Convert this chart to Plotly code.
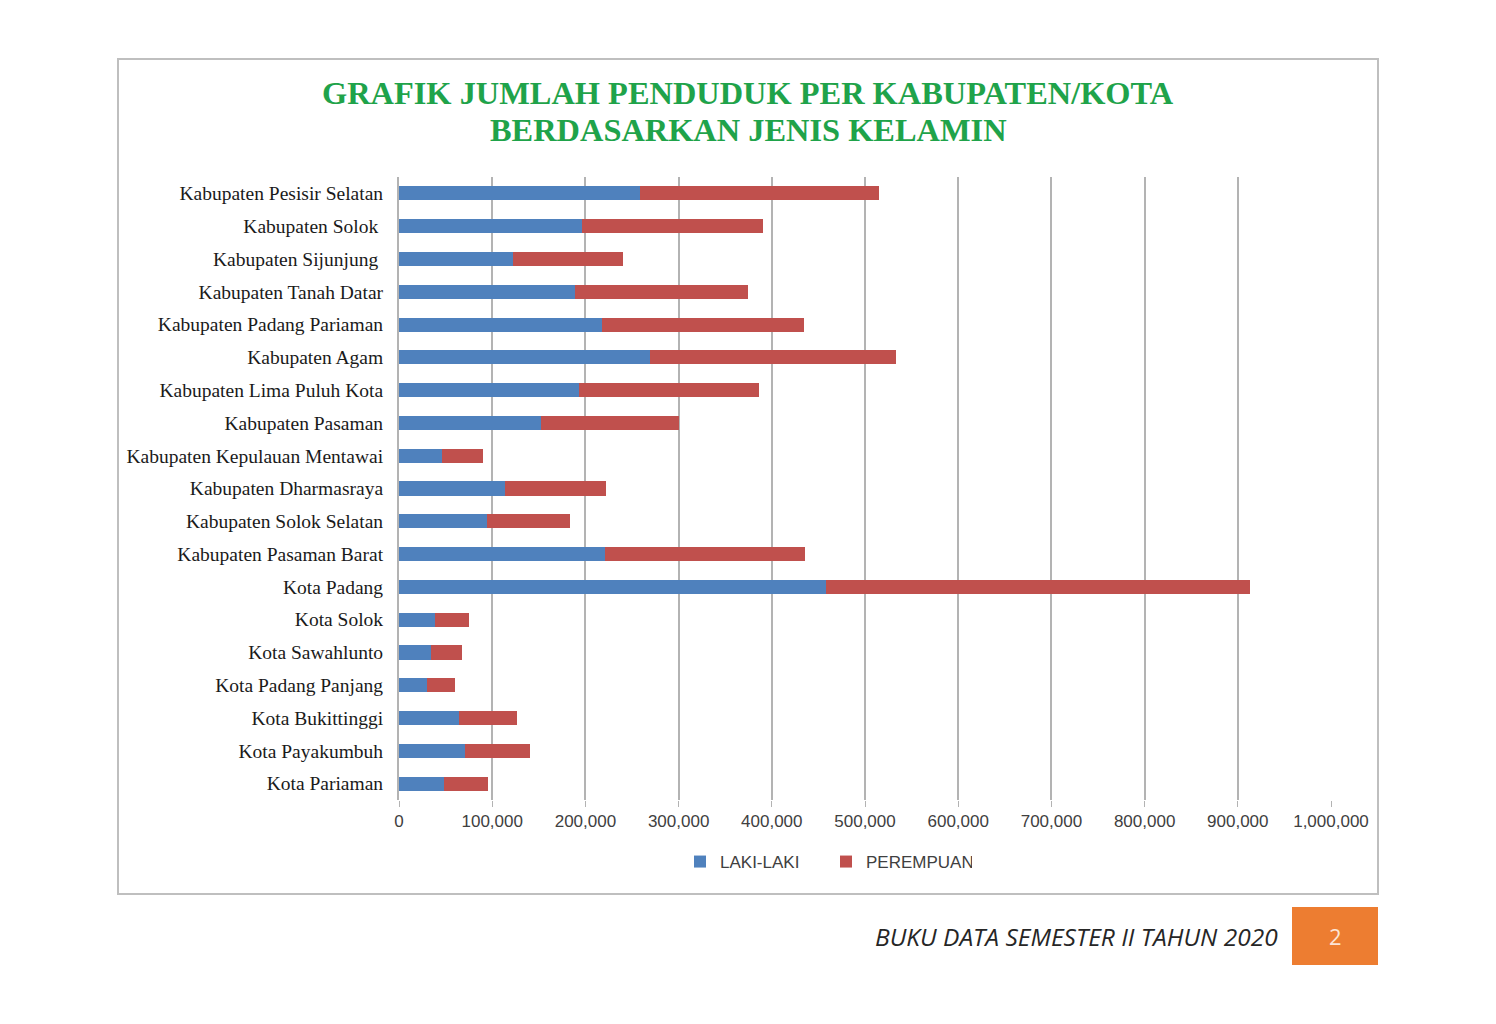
import plotly.graph_objects as go

categories = [
    "Kabupaten Pesisir Selatan", "Kabupaten Solok\u00a0", "Kabupaten Sijunjung\u00a0",
    "Kabupaten Tanah Datar", "Kabupaten Padang Pariaman", "Kabupaten Agam",
    "Kabupaten Lima Puluh Kota", "Kabupaten Pasaman", "Kabupaten Kepulauan Mentawai",
    "Kabupaten Dharmasraya", "Kabupaten Solok Selatan", "Kabupaten Pasaman Barat",
    "Kota Padang", "Kota Solok", "Kota Sawahlunto", "Kota Padang Panjang",
    "Kota Bukittinggi", "Kota Payakumbuh", "Kota Pariaman",
]
laki_laki = [258600, 196400, 122300, 188800, 217800, 269300, 193100, 152400, 46100,
             113700, 94400, 221000, 458200, 38600, 34300, 30000, 64400, 70800, 48300]
perempuan = [256400, 194200, 118000, 185700, 216700, 264000, 193200, 148000, 44000,
             108400, 89100, 214600, 454900, 36500, 33300, 30100, 62200, 69800, 47200]
tick_vals = [0, 100000, 200000, 300000, 400000, 500000, 600000, 700000, 800000, 900000, 1000000]

def px_x(p):
    return (p - 399) / 932

def px_y(p):
    return (800 - p) / 623

fig = go.Figure()
fig.add_trace(go.Bar(y=categories, x=laki_laki, name="LAKI-LAKI", orientation="h",
                     marker=dict(color="#4F81BD", line=dict(width=0))))
fig.add_trace(go.Bar(y=categories, x=perempuan, name="PEREMPUAN", orientation="h",
                     marker=dict(color="#C0504D", line=dict(width=0))))

fig.update_layout(
    barmode="stack",
    bargap=0.57,
    width=1496, height=1024,
    margin=dict(l=399, r=165, t=177, b=224),
    paper_bgcolor="white", plot_bgcolor="white",
    showlegend=True,
    legend=dict(orientation="h", x=px_x(680), xanchor="left", y=px_y(862), yanchor="middle",
                font=dict(family="Liberation Sans", size=17, color="#404040"),
                itemwidth=30, traceorder="normal", entrywidth=101, entrywidthmode="pixels"),
    xaxis=dict(range=[0, 1000000], tickvals=tick_vals, tickformat=",",
               showgrid=True, gridcolor="#B3B3B3", gridwidth=2,
               ticks="outside", ticklen=6, tickcolor="#B3B3B3", tickwidth=1,
               zeroline=False, showline=False,
               tickfont=dict(family="Liberation Sans", size=17, color="#404040")),
    yaxis=dict(autorange="reversed", showgrid=False, zeroline=False,
               showline=True, linecolor="#B3B3B3", linewidth=2,
               ticks="", ticklabelstandoff=10,
               tickfont=dict(family="Liberation Serif", size=19.5, color="#1a1a1a")),
    shapes=[
        dict(type="rect", xref="paper", yref="paper", x0=px_x(118), x1=px_x(1378),
             y0=px_y(894), y1=px_y(59), line=dict(color="#BFBFBF", width=2),
             fillcolor="rgba(0,0,0,0)", layer="below"),
        dict(type="rect", xref="paper", yref="paper", x0=px_x(1292), x1=px_x(1378),
             y0=px_y(965), y1=px_y(907), line=dict(width=0),
             fillcolor="#ED7D31"),
    ],
    annotations=[
        dict(text="<b>GRAFIK JUMLAH PENDUDUK PER KABUPATEN/KOTA</b>",
             xref="paper", yref="paper", x=px_x(748), y=px_y(93),
             xanchor="center", yanchor="middle", showarrow=False,
             font=dict(family="Liberation Serif", size=32.4, color="#1FA34A")),
        dict(text="<b>BERDASARKAN JENIS KELAMIN</b>",
             xref="paper", yref="paper", x=px_x(748), y=px_y(130),
             xanchor="center", yanchor="middle", showarrow=False,
             font=dict(family="Liberation Serif", size=32.4, color="#1FA34A")),
        dict(text="<i>BUKU DATA SEMESTER II TAHUN 2020</i>",
             xref="paper", yref="paper", x=px_x(1280), y=px_y(936),
             xanchor="right", yanchor="middle", showarrow=False,
             font=dict(family="Open Sans", size=24.5, color="#262626")),
        dict(text="2", xref="paper", yref="paper", x=px_x(1335), y=px_y(936),
             xanchor="center", yanchor="middle", showarrow=False,
             font=dict(family="Open Sans", size=22, color="#FCE4D6")),
    ],
)

fig.write_html("out.html")
